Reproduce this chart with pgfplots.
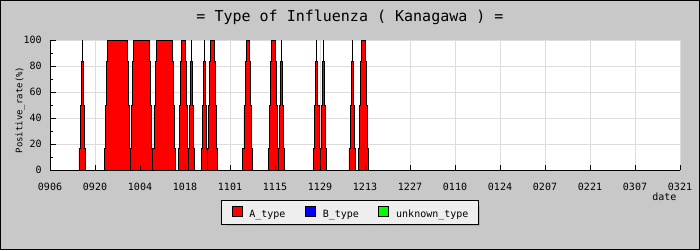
\documentclass[border=0pt]{standalone}
\usepackage{fontspec}
\setmainfont{DejaVu Sans Mono}
\usepackage{pgfplots}
\pgfplotsset{compat=1.18}
\definecolor{bggray}{HTML}{C8C8C8}
\definecolor{gridgray}{HTML}{DCDCDC}
\definecolor{legendgray}{HTML}{EEEEEE}
\definecolor{shadowgray}{HTML}{AEAEAE}
\pagecolor{bggray}
\pgfplotsset{
  myframe/.style={
    at={(50pt,80pt)}, anchor=south west,
    scale only axis, width=630pt, height=130pt,
    xmin=0, xmax=196, ymin=0, ymax=100,
    xtick={0,14,...,196},
    ytick={0,20,...,100},
  },
}
\begin{document}
\begin{tikzpicture}[font=\fontsize{10}{12}\selectfont]
\useasboundingbox (0,0) rectangle (700pt,250pt);
\node[anchor=base, font=\fontsize{15}{18}\selectfont] at (350pt,229pt) {= Type of Influenza ( Kanagawa ) =};
% grid layer
\begin{axis}[
  myframe,
  axis background/.style={fill=white},
  axis line style={draw=none},
  xticklabels={}, yticklabels={},
  grid=major,
  major grid style={draw=gridgray, line width=1pt},
  tick style={draw=none},
]
\end{axis}
\fill[shadowgray] (226pt,24pt) rectangle (480pt,45pt);
\begin{axis}[
  myframe,
  axis on top,
  axis x line*=bottom, axis y line*=left,
  axis line style={black, line width=1pt},
  xticklabels={0906,0920,1004,1018,1101,1115,1129,1213,1227,0110,0124,0207,0221,0307,0321},
  yticklabels={0,20,40,60,80,100},
  minor y tick num=1,
  tick align=inside,
  major tick length=5.5pt, minor tick length=3.2pt,
  tick style={black, line width=1pt},
  xticklabel style={anchor=base, yshift=-20pt},
  yticklabel style={anchor=east, xshift=-4.7pt},
  ylabel={Positive\_rate(\%)},
  ylabel style={at={(axis description cs:-0.0476,0.4615)}, anchor=center, font=\fontsize{9}{11}\selectfont},
  xlabel={date},
  xlabel style={at={(axis description cs:1,0)}, anchor=base east, yshift=-30pt, xshift=0pt},
  legend columns=3,
  legend image code/.code={\draw[#1, draw=black, line width=0.8pt] (0pt,-1.4pt) rectangle (10pt,8.6pt);},
  legend style={at={(axis description cs:0.4762,-0.3269)}, anchor=center,
    draw=black, line width=0.8pt, fill=legendgray,
    inner xsep=10pt, inner ysep=5pt,
    nodes={inner sep=0pt, text height=7.5pt, text depth=2.5pt},
    /tikz/every odd column/.append style={column sep=7pt},
    /tikz/every even column/.append style={column sep=19.5pt}},
]
\addplot[const plot, fill=red, draw=black, line width=0.8pt] coordinates {
(0,0)
(9,16.7)(9.333,50)(9.667,83.3)(10,100)(10,83.3)(10.333,50)(10.667,16.7)(11,0)
(17,16.7)(17.333,50)(17.667,83.3)(18,100)(24,83.3)(24.333,50)(24.667,16.7)(25,0)
(25,16.7)(25.333,50)(25.667,83.3)(26,100)(31,83.3)(31.333,50)(31.667,16.7)(32,0)
(32,16.7)(32.333,50)(32.667,83.3)(33,100)(38,83.3)(38.333,50)(38.667,16.7)(39,0)
(40,16.7)(40.333,50)(40.667,83.3)(41,100)(42,83.3)(42.333,50)(42.667,16.7)(43,0)
(43,16.7)(43.333,50)(43.667,83.3)(44,100)(44,83.3)(44.333,50)(44.667,16.7)(45,0)
(47,16.7)(47.333,50)(47.667,83.3)(48,100)(48,83.3)(48.333,50)(48.667,16.7)(49,0)
(49,16.7)(49.333,50)(49.667,83.3)(50,100)(51,83.3)(51.333,50)(51.667,16.7)(52,0)
(60,16.7)(60.333,50)(60.667,83.3)(61,100)(62,83.3)(62.333,50)(62.667,16.7)(63,0)
(68,16.7)(68.333,50)(68.667,83.3)(69,100)(70,83.3)(70.333,50)(70.667,16.7)(71,0)
(71,16.7)(71.333,50)(71.667,83.3)(72,100)(72,83.3)(72.333,50)(72.667,16.7)(73,0)
(82,16.7)(82.333,50)(82.667,83.3)(83,100)(83,83.3)(83.333,50)(83.667,16.7)(84,0)
(84,16.7)(84.333,50)(84.667,83.3)(85,100)(85,83.3)(85.333,50)(85.667,16.7)(86,0)
(93,16.7)(93.333,50)(93.667,83.3)(94,100)(94,83.3)(94.333,50)(94.667,16.7)(95,0)
(96,16.7)(96.333,50)(96.667,83.3)(97,100)(98,83.3)(98.333,50)(98.667,16.7)(99,0)
(196,0)
} \closedcycle;
\addlegendentry{A\_type}
\addlegendimage{fill=blue}
\addlegendentry{B\_type}
\addlegendimage{fill=green}
\addlegendentry{unknown\_type}
\end{axis}
\draw[black, line width=1pt] (0.5pt,0.5pt) rectangle (699.5pt,249.5pt);
\end{tikzpicture}
\end{document}
